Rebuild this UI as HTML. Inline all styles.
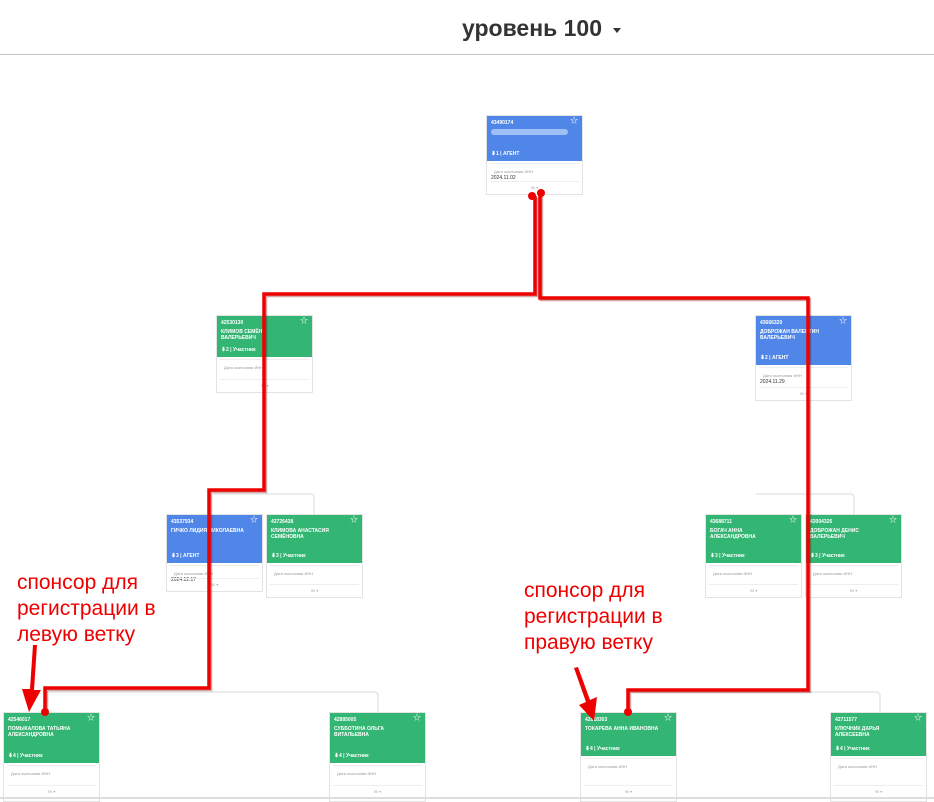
<!DOCTYPE html>
<html><head><meta charset="utf-8"><style>
body{margin:0;width:934px;height:799px;background:#fff;position:relative;overflow:hidden;font-family:"Liberation Sans","Noto Sans CJK SC",sans-serif}
.hd{position:absolute;left:0;top:0;width:934px;height:54px;border-bottom:1px solid #c4c4c4}
.hd .t{position:absolute;left:462px;top:15px;font-size:23px;font-weight:bold;color:#333}
.hd .a{position:absolute;left:613px;top:28px;width:0;height:0;border-left:4px solid transparent;border-right:4px solid transparent;border-top:5px solid #333}
.c{position:absolute;width:97px;background:#fff;border:1px solid #e3e3e3;box-sizing:border-box}
.c .h{color:#fff;font-size:5px;font-weight:bold;position:relative;padding:4px 14px 0 4px;box-sizing:border-box;line-height:6px}
.c .h .id{font-size:5px;margin-bottom:3px}
.c .h .s{position:absolute;right:4px;top:2px;font-size:8px;font-weight:normal}
.c .h .b{position:absolute;left:4px;bottom:4px;font-size:5px}
.g{background:#33b573}.bl{background:#4f86e8}
.c .d{font-size:4px;color:#999;padding:5px 4px 0;border-top:1px solid #eee;margin:2px 3px 0}
.c .dt{font-size:5px;color:#333;padding:1px 4px}
.c .f{position:absolute;left:3px;right:3px;bottom:0;height:12px;border-top:1px solid #eee;font-size:4px;color:#aaa;text-align:center;line-height:12px}
.lab{position:absolute;color:#e00;font-size:21px;line-height:26px}
</style></head><body>
<div class="hd"><div class="t">уровень 100</div><div class="a"></div></div>

<svg width="934" height="799" style="position:absolute;left:0;top:0">
<g fill="none" stroke="#e6e6e6" stroke-width="1.5">
<path d="M214 494 H310 Q314 494 314 498 V514"/>
<path d="M45 692 H374 Q378 692 378 696 V712"/>
<path d="M628 692 H876 Q880 692 880 696 V712"/>
<path d="M756 494 H850 Q854 494 854 498 V514"/>
</g>
</svg>

<div class="c" style="left:486px;top:115px;height:80px"><div class="h bl" style="height:45px"><div class="id">43490174</div><div style="height:6px;background:#9fc0f5;border-radius:3px;margin-right:0"></div><span class="s">☆</span><div class="b">⬇1 | АГЕНТ</div></div><div class="d">Дата окончания ИНН</div><div class="dt">2024.11.02</div><div class="f">90 ▾</div></div>

<div class="c" style="left:216px;top:315px;height:78px"><div class="h g" style="height:41px"><div class="id">42530130</div>КЛИМОВ СЕМЁН ВАЛЕРЬЕВИЧ<span class="s">☆</span><div class="b">⬇2 | Участник</div></div><div class="d">Дата окончания ИНН</div><div class="f">90 ▾</div></div>

<div class="c" style="left:755px;top:315px;height:86px"><div class="h bl" style="height:49px"><div class="id">43666320</div>ДОБРОЖАН ВАЛЕНТИН ВАЛЕРЬЕВИЧ<span class="s">☆</span><div class="b">⬇2 | АГЕНТ</div></div><div class="d">Дата окончания ИНН</div><div class="dt">2024.11.29</div><div class="f">90 ▾</div></div>

<div class="c" style="left:166px;top:514px;height:78px"><div class="h bl" style="height:48px"><div class="id">43537934</div>ГИЧКО ЛИДИЯ НИКОЛАЕВНА<span class="s">☆</span><div class="b">⬇3 | АГЕНТ</div></div><div class="d">Дата окончания ИНН</div><div class="dt">2024.12.17</div><div class="f">90 ▾</div></div>

<div class="c" style="left:266px;top:514px;height:84px"><div class="h g" style="height:48px"><div class="id">43726438</div>КЛИМОВА АНАСТАСИЯ СЕМЁНОВНА<span class="s">☆</span><div class="b">⬇3 | Участник</div></div><div class="d">Дата окончания ИНН</div><div class="f">90 ▾</div></div>

<div class="c" style="left:705px;top:514px;height:84px"><div class="h g" style="height:48px"><div class="id">43688711</div>БОГАЧ АННА АЛЕКСАНДРОВНА<span class="s">☆</span><div class="b">⬇3 | Участник</div></div><div class="d">Дата окончания ИНН</div><div class="f">90 ▾</div></div>

<div class="c" style="left:805px;top:514px;height:84px"><div class="h g" style="height:48px"><div class="id">43004326</div>ДОБРОЖАН ДЕНИС ВАЛЕРЬЕВИЧ<span class="s">☆</span><div class="b">⬇3 | Участник</div></div><div class="d">Дата окончания ИНН</div><div class="f">90 ▾</div></div>

<div class="c" style="left:3px;top:712px;height:90px"><div class="h g" style="height:50px"><div class="id">42546017</div>ПОМЫКАЛОВА ТАТЬЯНА АЛЕКСАНДРОВНА<span class="s">☆</span><div class="b">⬇4 | Участник</div></div><div class="d">Дата окончания ИНН</div><div class="f" style="bottom:3px">90 ▾</div></div>

<div class="c" style="left:329px;top:712px;height:90px"><div class="h g" style="height:50px"><div class="id">42885005</div>СУББОТИНА ОЛЬГА ВИТАЛЬЕВНА<span class="s">☆</span><div class="b">⬇4 | Участник</div></div><div class="d">Дата окончания ИНН</div><div class="f" style="bottom:3px">90 ▾</div></div>

<div class="c" style="left:580px;top:712px;height:90px"><div class="h g" style="height:43px"><div class="id">42818303</div>ТОКАРЕВА АННА ИВАНОВНА<span class="s">☆</span><div class="b">⬇4 | Участник</div></div><div class="d">Дата окончания ИНН</div><div class="f" style="bottom:3px">90 ▾</div></div>

<div class="c" style="left:830px;top:712px;height:90px"><div class="h g" style="height:43px"><div class="id">42711577</div>КЛЮЧНИК ДАРЬЯ АЛЕКСЕЕВНА<span class="s">☆</span><div class="b">⬇4 | Участник</div></div><div class="d">Дата окончания ИНН</div><div class="f" style="bottom:3px">90 ▾</div></div>

<div style="position:absolute;left:0;top:797px;width:934px;height:2px;background:#ddd"></div>

<svg width="934" height="799" style="position:absolute;left:0;top:0">
<g fill="none" stroke="#700" stroke-opacity="0.35" stroke-width="3.5" transform="translate(1.5,1.5)">
<path d="M535 196 V294 H264 V490 H209 V688 H45 V712"/>
<path d="M540 194 V298 H808 V690 H628 V712"/>
</g>
<g fill="none" stroke="#e00" stroke-width="3.5" stroke-linejoin="miter">
<path d="M535 196 V294 H264 V490 H209 V688 H45 V712"/>
<path d="M540 194 V298 H808 V690 H628 V712"/>
</g>
<g fill="#e00">
<circle cx="532" cy="196" r="4"/><circle cx="541" cy="193" r="4"/>
<circle cx="45" cy="712" r="4"/><circle cx="628" cy="712" r="4"/>
<path d="M33 645 L37 645 L34 690 L41 690 L29 712 L22 689 L30 689 Z"/>
<path d="M574 668 L578 667 L590 700 L597 697 L594 721 L579 705 L586 702 Z"/>
</g>
</svg>

<div class="lab" style="left:17px;top:570px">спонсор для<br>регистрации в<br>левую ветку</div>
<div class="lab" style="left:524px;top:578px">спонсор для<br>регистрации в<br>правую ветку</div>
</body></html>
